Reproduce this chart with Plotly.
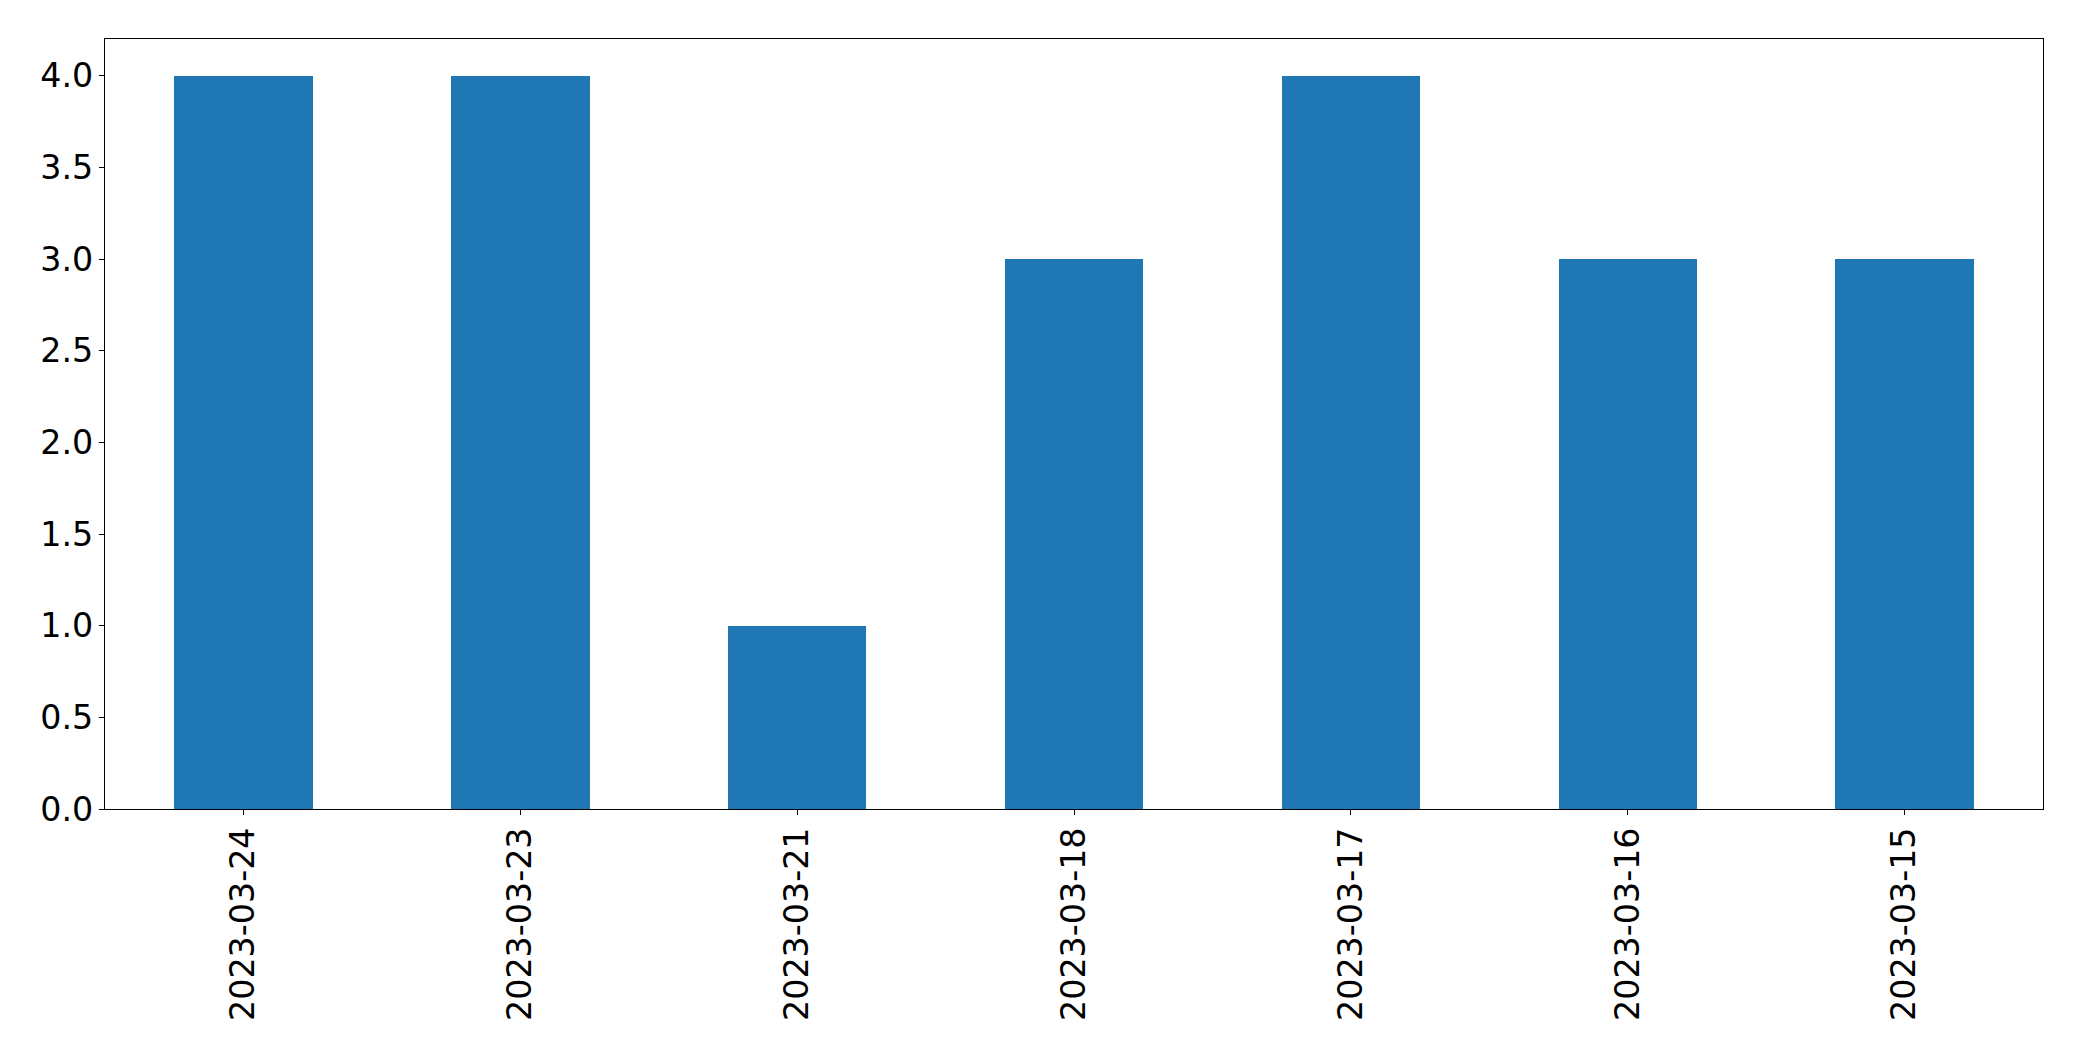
import plotly.graph_objects as go

dates = ["2023-03-24", "2023-03-23", "2023-03-21", "2023-03-18", "2023-03-17", "2023-03-16", "2023-03-15"]
counts = [4, 4, 1, 3, 4, 3, 3]
y_ticks = [0.0, 0.5, 1.0, 1.5, 2.0, 2.5, 3.0, 3.5, 4.0]

fig = go.Figure(go.Bar(x=dates, y=counts, width=0.5, marker=dict(color="#1f77b4", line=dict(width=0))))

fig.update_layout(
    width=2074, height=1053,
    margin=dict(l=97, r=39, t=31, b=252, pad=0),
    plot_bgcolor="white", paper_bgcolor="white",
    font=dict(family="DejaVu Sans", size=33.3, color="black"),
    showlegend=False,
    bargap=0,
)
fig.update_xaxes(
    type="category", range=[-0.5, 6.5],
    showline=True, linecolor="black", linewidth=1.3, mirror=True,
    ticks="outside", ticklen=5, tickwidth=1.3, tickcolor="black",
    tickangle=-90, showgrid=False, zeroline=False, ticklabelstandoff=-1,
)
fig.update_yaxes(
    range=[0, 4.2], tickvals=y_ticks, ticktext=[f"{v:.1f}" for v in y_ticks],
    showline=True, linecolor="black", linewidth=1.3, mirror=True,
    ticks="outside", ticklen=5, tickwidth=1.3, tickcolor="black",
    showgrid=False, zeroline=False, ticklabelstandoff=-1,
)

fig.write_html("out.html")
